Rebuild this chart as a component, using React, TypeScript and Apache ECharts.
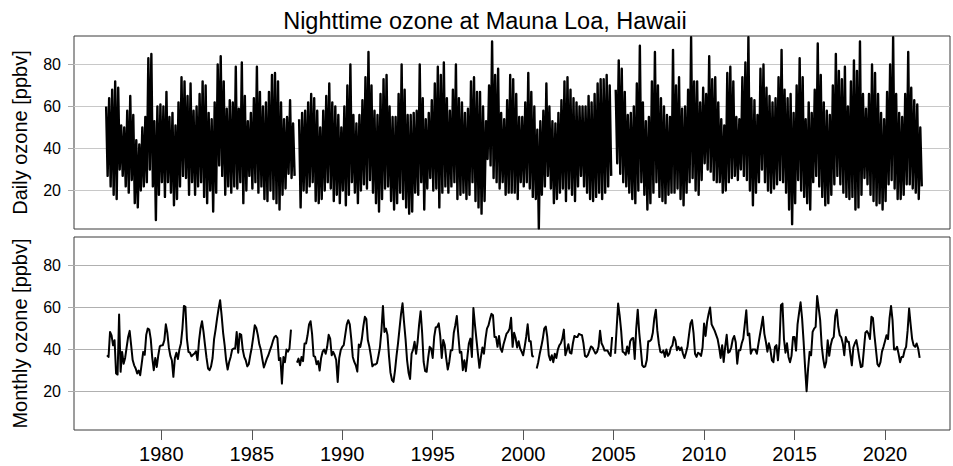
import React, { useEffect, useRef } from "react";
import * as echarts from "echarts";

// ---- axis labels ----
const yearTicks = [1980, 1985, 1990, 1995, 2000, 2005, 2010, 2015, 2020];
const ozoneTicks = [20, 40, 60, 80];

// ---- monthly mean ozone (ppbv), Jan 1977 .. Dec 2021, null = missing ----
const monthlyStart = 1977;
const monthlyOzone: (number | null)[] = [
  // 1977
  37.3, 36.5, 48.4, 46.8, 42, 44.4, 28.6, 28.1, 56.7, 29.4, 38.9, 33.3,
  // 1978
  36, 41, 46, 48.9, 42, 35, 32.5, 31, 28.6, 30, 27.8, 33.3,
  // 1979
  38.9, 37.5, 47, 50, 49.5, 45, 36, 30.2, 36, 31.7, 37.3, 41.5,
  // 1980
  42, 42.1, 44.4, 52, 48, 41, 37, 34.9, 27, 36, 38.5, 35.5,
  // 1981
  40, 42.9, 50, 60.8, 60.3, 45, 38.9, 38.5, 36.8, 37.5, 38.1, 39.2,
  // 1982
  35, 44, 50, 53.5, 48.4, 42, 36, 31, 30.2, 32, 36, 45,
  // 1983
  49.5, 54.8, 59.5, 63.5, 56.3, 48, 42.1, 34.9, 30.5, 34.1, 36.5, 40,
  // 1984
  40.5, 40.5, 48.4, 38.5, 47.5, 47, 40, 36.5, 34.9, 32, 33, 37.3,
  // 1985
  41, 46, 51.6, 50.3, 47, 42.5, 40, 35.5, 31.5, 33.5, 35.7, 37.3,
  // 1986
  39.5, 41.5, 44, 46, 46.5, 45.5, 35, 36, 23.8, 36.5, 34, 40,
  // 1987
  39, 40.5, 49.5, null, null, null, 33.8, 35.7, 32.5, 36.5, 34.5, 42.9,
  // 1988
  42.9, 46.8, 52, 53.5, 47.5, 37, 36.5, 33, 34.5, 30, 36, 39,
  // 1989
  40, 38, 41.3, 47, 45.2, 37.3, 38.9, 37.3, 35, 24.6, 36, 39.7,
  // 1990
  41.3, 42.1, 47, 51.9, 54, 52, 45, 36.5, 34.1, 32.5, 29.5, 42.4,
  // 1991
  41.3, 45, 51, 55.6, 54.5, 44.4, 41.3, 37, 32, 32.9, 32.9, 33.5,
  // 1992
  37, 41, 49, 60.8, 48.4, 50, 47, 37, 29, 25.5, 24.6, 30,
  // 1993
  37, 42.9, 50, 57, 62, 53, 45, 35, 29, 26, 38, 40,
  // 1994
  43.7, 38, 43.7, 52, 58.3, 48, 34.1, 29.7, 29.4, 36, 41.3, 40.5,
  // 1995
  36, 46, 50.5, 50.8, 52.5, 46.5, 36, 44.5, 42.1, 35.7, 30.5, 34.1,
  // 1996
  39.7, 39.7, 48, 51.6, 56, 46.8, 38.5, 38.9, 30.2, 34.9, 29.7, 36.5,
  // 1997
  42.9, 45.2, 36.5, 59.8, 52, 45, 38, 31.3, 36.5, 41, 38, 45,
  // 1998
  50, 51.5, 54.5, 57, 56.3, 46, 46, 41.3, 46.5, 40.5, 38.9, 42.5,
  // 1999
  45, 47.6, 48.4, 50, 55.1, 41.3, 48, 45.5, 41, 44, 40.5, 39,
  // 2000
  37.3, 41.3, 46, 52, 44, 44, 37, 36.5, null, 31, 34, 38,
  // 2001
  41.3, 45, 50, 51, 46, 37.3, 34.9, 37.3, 34, 38, 36, 40,
  // 2002
  42, 43, 45.2, 49.5, 37.3, 39.7, 42.5, 38.5, 38.1, 43, 46.5, 46,
  // 2003
  46, 47.5, 47.1, 46.8, 43, 37, 36.5, 37.5, 39.5, 41.5, 41, 39.5,
  // 2004
  38.1, 38.9, 41.3, 49, 43, 41.5, 39.5, 39.5, 39.5, 38, 37, 46,
  // 2005
  null, 38, 50, 61.9, 56.3, 49, 39, 38.5, 37.5, 41.5, 38.1, 44,
  // 2006
  45.2, 45.5, 35.5, 50, 59, 48, 40.5, 32.5, 31.7, 32, 35, 44,
  // 2007
  44, 44.8, 48, 55, 59, 49, 42.9, 38.9, 38.5, 39.5, 36.5, 40,
  // 2008
  37, 38, 41, 42, 46, 44.4, 39.7, 41.3, 39.7, 41, 38, 36,
  // 2009
  38.5, 41.3, 47, 52.5, 54, 48, 38, 36.5, 38.5, 38, 37, 41,
  // 2010
  52.4, 46.5, 53.2, 57, 60, 52, 50.5, 49, 47, 45, 41, 36,
  // 2011
  42.1, 34.1, 41.3, 47, 38.5, 39, 41, 44.8, 46.5, 43.5, 33.3, 39.7,
  // 2012
  39.7, 43, 45.2, 52, 58.7, 46.8, 47.6, 38, 40, 40, 40, 38,
  // 2013
  42.5, 46.8, 51, 55.6, 47.5, 43.7, 39, 43, 40, 34.9, 34, 41.3,
  // 2014
  42.1, 34.9, 43, 61.1, 61.9, 45, 38.5, 43, 36.5, 34, 37, 46,
  // 2015
  46, 39.5, 52, 57.5, 62.5, 55, 44, 31.5, 20.2, 31, 38.9, 37.3,
  // 2016
  48.4, 50, 50.8, 65.5, 60, 54, 42, 35.7, 31.5, 34.1, 44.4, 37,
  // 2017
  42.1, 45, 46, 56, 59, 51, 46.8, 45.8, 42.9, 37.3, 46, 43.7,
  // 2018
  43.7, 38, 32.5, 41, 43, 44.5, 40.5, 35.7, 31.7, 32, 40, 48,
  // 2019
  48.8, 47.5, 45, 55.6, 55, 46.8, 40, 33, 32, 34, 39, 41.3,
  // 2020
  44, 46.8, 45, 54.8, 60.8, 54, 40, 40, 41.3, 38, 34, 36.5,
  // 2021
  36.5, 39.7, 41.3, 49, 59.5, 52, 45, 42, 41.3, 42.9, 40.5, 36,
];

// ---- daily ozone envelope: highest and lowest daily value in each 2-month bin ----
const dailyStart = 1976.95;
const dailyBinsPerYear = 6;
const dailyHigh: (number | null)[] = [
  60, 64, 68, 72, 69, 51, 50, 58, 65, 56,
  44, 42, 50, 55, 83, 85, 53, 60, 61, 60,
  67, 55, 57, 51, 62, 74, 72, 65, 71, 58,
  60, 66, 72, 70, 57, 54, 62, 80, 84, 72,
  59, 63, 62, 79, 59, 81, 65, 53, 57, 64,
  79, 67, 60, 62, 67, 75, 76, 72, 62, 54,
  55, 63, 52, null, 54, 57, 58, 62, 66, 64,
  58, 50, 58, 65, 71, 62, 60, 56, 50, 60,
  70, 80, 56, 52, 56, 63, 74, 86, 70, 58,
  56, 66, 73, 75, 60, 55, 55, 66,
  80, 68, 56, 56, 57, 58, 80, 64, 54, 57,
  63, 71, 79, 75, 81, 64, 58, 68, 80, 64,
  62, 57, 59, 72, 74, 67, 67, 60, 53, 70,
  91, 75, 78, 57, 54, 63, 75, 73, 66, 55,
  55, 62, 76, 67, 60, 49, 53, 58, 71, 60,
  53, 52, 57, 63, 72, 74, 68, 64, 62, 60,
  60, 60, 65, 62, 66, 71, 73, 73, 75, 70,
  null, 68, 82, 78, 67, 56, 57, 60, 71, 89,
  62, 53, 55, 72, 86, 70, 64, 60, 56, 55,
  87, 70, 74, 59, 60, 68, 93, 72,
  72, 62, 69, 66, 84, 73, 74, 62, 54, 51,
  76, 79, 72, 55, 54, 74, 81, 93, 64, 63,
  56, 78, 80, 69, 65, 62, 64, 74, 87, 68,
  64, 66, 57, 70, 83, 74, 54, 62, 57, 68,
  90, 75, 62, 58, 56, 70, 85, 77, 73, 79,
  60, 72, 82, 77, 91, 66, 59, 66, 80, 76,
  66, 57, 54, 67, 80, 93, 66, 57, 55, 66,
  86, 69, 63, 61, 50,
];
const dailyLow: (number | null)[] = [
  27, 22, 18, 16, 30, 27, 22, 19, 25, 14,
  12, 20, 22, 24, 30, 22, 6, 18, 24, 17,
  24, 19, 13, 16, 22, 27, 26, 18, 24, 18,
  22, 24, 17, 14, 20, 10, 19, 32, 27, 18,
  22, 19, 22, 21, 24, 14, 20, 27, 21, 24,
  19, 22, 16, 15, 20, 16, 14, 11, 18, 21,
  28, 26, 27, null, 12, 20, 19, 22, 24, 15,
  14, 16, 20, 24, 21, 15, 18, 14, 20, 13,
  18, 24, 19, 14, 20, 23, 21, 25, 19, 14,
  10, 16, 21, 22, 15, 11, 14, 19,
  16, 12, 9, 10, 19, 18, 24, 11, 21, 26,
  20, 21, 12, 19, 22, 19, 22, 24, 16, 18,
  19, 16, 18, 24, 15, 12, 9, 15, 35, 32,
  26, 24, 21, 24, 18, 19, 19, 19, 16, 24,
  22, 24, 21, 17, 16, 2, 18, 22, 27, 21,
  14, 16, 19, 21, 15, 21, 18, 15, 22, 27,
  22, 19, 16, 15, 17, 19, 16, 19, 22, 27,
  null, 33, 28, 24, 22, 19, 16, 14, 20, 24,
  18, 11, 14, 19, 24, 17, 15, 14, 18, 19,
  19, 21, 16, 13, 19, 24, 26, 20,
  18, 25, 33, 30, 29, 25, 24, 24, 19, 20,
  24, 26, 27, 25, 30, 27, 25, 20, 13, 19,
  24, 30, 24, 20, 19, 21, 23, 25, 24, 19,
  11, 4, 14, 25, 20, 17, 14, 11, 24, 27,
  22, 17, 13, 14, 18, 23, 27, 23, 19, 17,
  16, 17, 11, 12, 18, 26, 23, 18, 15, 13,
  14, 11, 15, 23, 25, 21, 16, 16, 18, 23,
  23, 21, 19, 16, 22,
];

const FONT = '"Liberation Sans", Arial, Helvetica, sans-serif';

function monthlyPoints() {
  return monthlyOzone.map((v, i) => [monthlyStart + i / 12, v]);
}

function dailyPoints() {
  const pts: (number | null)[][] = [];
  const step = 1 / dailyBinsPerYear;
  dailyHigh.forEach((hi, k) => {
    const t = dailyStart + k * step;
    const lo = dailyLow[k];
    if (hi == null || lo == null) {
      pts.push([t, null]);
    } else {
      pts.push([t, hi]);
      pts.push([t + step / 2, lo]);
    }
  });
  return pts;
}

export default function App() {
  const ref = useRef<HTMLDivElement>(null);

  useEffect(() => {
    if (!ref.current) return;
    const chart = echarts.init(ref.current, undefined, { renderer: "svg" });
    const xMin = 1975.174;
    const xMax = 2023.593;
    const yMin = 1.7;
    const yMax = 93.6;

    const yAxisBase = (gridIndex: number, name: string) => ({
      type: "value",
      gridIndex,
      min: yMin,
      max: yMax,
      name,
      nameLocation: "middle",
      nameGap: 44,
      nameRotate: 90,
      nameTextStyle: { fontSize: 20, color: "#000", fontFamily: FONT },
      axisLine: { show: false },
      axisTick: {
        show: true,
        customValues: ozoneTicks,
        length: 6,
        lineStyle: { color: "#aaaaaa", width: 1 },
      },
      axisLabel: {
        customValues: ozoneTicks,
        fontSize: 16,
        color: "#000",
        fontFamily: FONT,
        margin: 13,
      },
      splitLine: {
        show: true,
        lineStyle: { color: gridIndex === 0 ? "#c8c8c8" : "#b0b0b0", width: 1 },
      },
    });

    chart.setOption({
      animation: false,
      textStyle: { fontFamily: FONT },
      grid: [
        { left: 74, top: 36, width: 876, height: 193, show: true, borderColor: "#3a3a3a", borderWidth: 1, backgroundColor: "transparent" },
        { left: 74, top: 237, width: 876, height: 193, show: true, borderColor: "#3a3a3a", borderWidth: 1, backgroundColor: "transparent" },
      ],
      xAxis: [
        {
          type: "value",
          gridIndex: 0,
          min: xMin,
          max: xMax,
          axisLine: { show: false },
          axisTick: { show: false },
          axisLabel: { show: false },
          splitLine: { show: false },
        },
        {
          type: "value",
          gridIndex: 1,
          min: xMin,
          max: xMax,
          axisLine: { show: false },
          axisTick: {
            show: true,
            customValues: yearTicks,
            length: 10,
            lineStyle: { color: "#555555", width: 1 },
          },
          axisLabel: {
            customValues: yearTicks,
            fontSize: 20,
            color: "#000",
            fontFamily: FONT,
            margin: 14,
            formatter: (v: number) => String(Math.round(v)),
          },
          splitLine: { show: false },
        },
      ],
      yAxis: [yAxisBase(0, "Daily ozone [ppbv]"), yAxisBase(1, "Monthly ozone [ppbv]")],
      graphic: [
        {
          type: "text",
          x: 485,
          y: 21,
          style: {
            text: "Nighttime ozone at Mauna Loa, Hawaii",
            fontSize: 23.5,
            fontFamily: FONT,
            fill: "#000",
            textAlign: "center",
            textVerticalAlign: "middle",
          },
        },
      ],
      series: [
        {
          name: "Daily",
          type: "line",
          xAxisIndex: 0,
          yAxisIndex: 0,
          data: dailyPoints(),
          symbol: "none",
          connectNulls: false,
          silent: true,
          z: 3,
          lineStyle: { color: "#000", width: 2.4, join: "round" },
        },
        {
          name: "Monthly",
          type: "line",
          xAxisIndex: 1,
          yAxisIndex: 1,
          data: monthlyPoints(),
          symbol: "none",
          connectNulls: false,
          silent: true,
          z: 3,
          lineStyle: { color: "#000", width: 2, join: "round" },
        },
      ],
    });

    return () => chart.dispose();
  }, []);

  return (
    <div
      ref={ref}
      style={{ position: "fixed", left: 0, top: 0, width: 953, height: 466, background: "#fff" }}
    />
  );
}
